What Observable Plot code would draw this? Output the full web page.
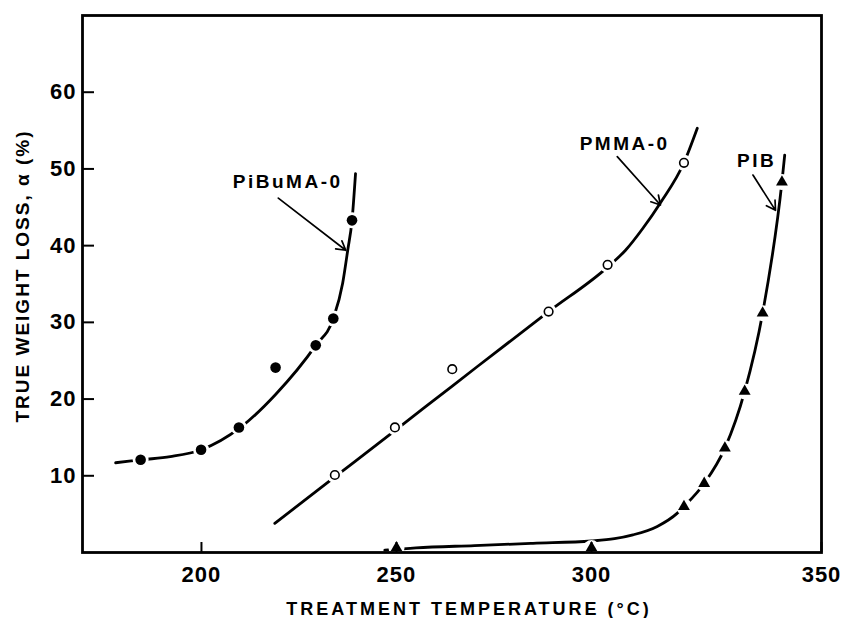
<!DOCTYPE html>
<html><head><meta charset="utf-8">
<script src="https://cdn.jsdelivr.net/npm/d3@7"></script>
<script src="https://cdn.jsdelivr.net/npm/@observablehq/plot@0.6"></script>
<style>
body{margin:0;background:#fff}
#chart svg{font-family:"Liberation Sans",Arial,sans-serif}
#chart svg [aria-label="x-axis tick label"] text,#chart svg [aria-label="y-axis tick label"] text{letter-spacing:1px}
.xtitle text{letter-spacing:3px}
.ytitle text{letter-spacing:2px}
.lbl text{letter-spacing:2.5px}
</style>
</head><body><div id="chart"></div>
<script>
// PiBuMA-0 (filled circles)
const pibumaT = [184.4, 199.9, 209.6, 219.0, 229.3, 233.8, 238.6];
const pibumaA = [12.1, 13.4, 16.3, 24.1, 27.0, 30.5, 43.3];
const pibumaCurveT = [178, 185, 192, 200, 210, 219, 229.3, 233.8, 236.2, 237.5, 238.6, 239.5];
const pibumaCurveA = [11.7, 12.1, 12.5, 13.4, 16.3, 20.6, 27.0, 30.5, 35.1, 39.4, 43.3, 49.4];
// PMMA-0 (open circles)
const pmmaT = [234.2, 249.6, 264.3, 289.0, 303.5, 320.1];
const pmmaA = [10.1, 16.3, 23.9, 31.4, 37.5, 50.8];
const pmmaCurveT = [218.8, 234.2, 249.6, 264.3, 289.0, 303.5, 307.4, 311.1, 315.0, 320.1, 323.0];
const pmmaCurveA = [3.8, 9.85, 15.9, 21.7, 31.4, 37.2, 39.4, 42.2, 45.6, 50.8, 55.3];
// PIB (filled triangles)
const pibT = [250, 300, 320.1, 324.5, 329.0, 333.3, 337.2, 341.4];
const pibA = [0.6, 0.6, 6.0, 9.0, 13.6, 21.0, 31.2, 48.3];
const pibCurveT = [247, 255, 270, 285, 300, 305, 309, 314.3, 318.6, 320.1, 324.5, 329.0, 333.3, 337.2, 341.4, 342.0];
const pibCurveA = [0.3, 0.6, 0.9, 1.2, 1.5, 1.8, 2.3, 3.4, 5.1, 6.0, 9.0, 13.6, 21.0, 31.2, 48.3, 51.8];
// annotations
const labelNames = ["PiBuMA-0", "PMMA-0", "PIB"];
const labelX = [222.1, 307.2, 335.9];
const labelY = [48.3, 53.3, 51.1];
const arrowX1 = [219.7, 305.6, 335.1];
const arrowY1 = [46.2, 51.6, 49.2];
const arrowX2 = [237.0, 315.0, 340.0];
const arrowY2 = [39.4, 45.3, 44.6];
// axes
const xTicks = [200, 250, 300, 350];
const yTicks = [10, 20, 30, 40, 50, 60];
const xTitle = "TREATMENT TEMPERATURE (°C)";
const yTitle = "TRUE WEIGHT LOSS, α (%)";

const zip = (xs, ys) => xs.map((x, i) => ({x, y: ys[i]}));
const pibuma = zip(pibumaT, pibumaA), pibumaCurve = zip(pibumaCurveT, pibumaCurveA);
const pmma = zip(pmmaT, pmmaA), pmmaCurve = zip(pmmaCurveT, pmmaCurveA);
const pib = zip(pibT, pibA), pibCurve = zip(pibCurveT, pibCurveA);
const labels = labelNames.map((t, i) => ({t, x: labelX[i], y: labelY[i]}));
const arrows = arrowX1.map((x1, i) => ({x1, y1: arrowY1[i], x2: arrowX2[i], y2: arrowY2[i]}));
const allPts = [...pibuma, ...pmma, ...pib];

const lineOpts = {x: "x", y: "y", curve: "monotone-x", stroke: "black", strokeWidth: 2.8};
const chart = Plot.plot({
  width: 844, height: 618,
  marginLeft: 82, marginRight: 23, marginTop: 15, marginBottom: 66,
  style: {background: "white", color: "black", fontWeight: "bold", fontSize: "22px"},
  x: {type: "linear", domain: [169.5, 300, 350], range: [82, 591, 821]},
  y: {domain: [0, 70]},
  marks: [
    Plot.line(pibumaCurve, lineOpts),
    Plot.line(pmmaCurve, lineOpts),
    Plot.line(pibCurve, lineOpts),
    Plot.dot(allPts, {x: "x", y: "y", r: 8, fill: "white"}),
    Plot.frame({stroke: "black", strokeWidth: 2.8}),
    Plot.axisX(xTicks, {tickSize: -10, tickPadding: 24, strokeWidth: 2, fontSize: 22, fontWeight: "bold", label: null}),
    Plot.axisY(yTicks, {tickSize: -12, tickPadding: 18, strokeWidth: 2, fontSize: 22, fontWeight: "bold", label: null}),
    Plot.dot(pibuma, {x: "x", y: "y", r: 5.3, fill: "black"}),
    Plot.dot(pmma, {x: "x", y: "y", r: 4.3, fill: "white", stroke: "black", strokeWidth: 1.6}),
    Plot.dot(pib, {x: "x", y: "y", r: 4.4, symbol: "triangle", fill: "black"}),
    Plot.arrow(arrows, {x1: "x1", y1: "y1", x2: "x2", y2: "y2", stroke: "black", strokeWidth: 1.7, headLength: 9}),
    Plot.text(labels, {x: "x", y: "y", text: "t", fontSize: 19, fontWeight: "bold", fill: "black", className: "lbl"}),
    Plot.text([xTitle], {frameAnchor: "bottom", dy: 62, dx: 17, lineAnchor: "bottom", fontSize: 18, fontWeight: "bold", fill: "black", className: "xtitle"}),
    Plot.text([yTitle], {frameAnchor: "left", textAnchor: "middle", dx: -60, dy: -8, rotate: -90, fontSize: 19, fontWeight: "bold", fill: "black", className: "ytitle"})
  ]
});
document.getElementById("chart").appendChild(chart);
</script>
</body></html>
